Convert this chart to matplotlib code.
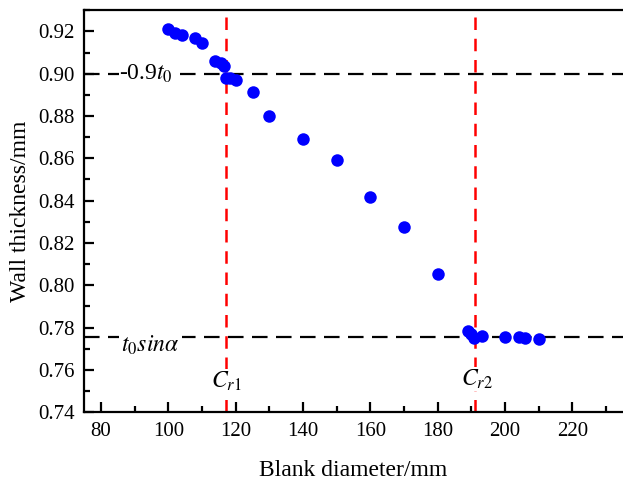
import matplotlib
matplotlib.use("Agg")
import matplotlib.pyplot as plt
from matplotlib.ticker import MultipleLocator

plt.rcParams["font.family"] = "Liberation Serif"
plt.rcParams["mathtext.fontset"] = "stix"

# ---------- data ----------
diameter = [100, 102, 104, 108, 110, 114, 115.5, 116.5, 117.2, 118.2, 120,
            125, 130, 140, 150, 160, 170, 180,
            189, 190, 190.8, 193, 200, 204, 206, 210]
thickness = [0.9212, 0.9192, 0.9181, 0.9170, 0.9147, 0.9062, 0.9050, 0.9037, 0.8980, 0.8978, 0.8970,
             0.8915, 0.8800, 0.8692, 0.8593, 0.8416, 0.8275, 0.8053,
             0.7785, 0.7770, 0.7752, 0.7760, 0.7755, 0.7755, 0.7752, 0.7746]
t_09 = 0.90
t_sin = 0.7755
cr1 = 117
cr2 = 191

fig = plt.figure(figsize=(6.23, 4.86), dpi=100)
ax = fig.add_axes([0.135, 0.152, 0.865, 0.827])

ax.axhline(t_09, color="black", lw=1.6, dashes=(7, 3.8), zorder=1)
ax.axhline(t_sin, color="black", lw=1.6, dashes=(7, 3.8), zorder=1)
ax.axvline(cr1, color="red", lw=1.8, dashes=(5, 3.5), zorder=1)
ax.axvline(cr2, color="red", lw=1.8, dashes=(5, 3.5), zorder=1)
ax.plot(diameter, thickness, "o", color="#0000FF", ms=9, mec="none", zorder=3)

white = dict(facecolor="white", edgecolor="none", pad=0.3)
ax.text(85.5, t_09, "-0.9$t_{\\mathit{0}}$", fontsize=17, va="center", ha="left",
        bbox=white, zorder=2)
ax.text(86, 0.7718, "$t_{\\mathit{0}}sin\\alpha$", fontsize=17, va="center", ha="left",
        bbox=dict(facecolor="white", edgecolor="none", pad=1.5), zorder=2)
ax.text(cr1 + 0.3, 0.7545, "$C_{\\mathit{r1}}$", fontsize=17, va="center", ha="center",
        bbox=white, zorder=2)
ax.text(cr2 + 0.8, 0.7555, "$C_{\\mathit{r2}}$", fontsize=17, va="center", ha="center",
        bbox=white, zorder=2)

ax.set_xlim(75, 235)
ax.set_ylim(0.74, 0.93)
ax.xaxis.set_major_locator(MultipleLocator(20))
ax.xaxis.set_minor_locator(MultipleLocator(10))
ax.yaxis.set_major_locator(MultipleLocator(0.02))
ax.yaxis.set_minor_locator(MultipleLocator(0.01))
ax.yaxis.set_major_formatter(plt.FormatStrFormatter("%.2f"))
ax.tick_params(which="both", direction="in", width=1.6, labelsize=15, top=False, right=False)
ax.tick_params(which="major", length=7, pad=7)
ax.tick_params(which="minor", length=4)
for s in ["left", "bottom", "top"]:
    ax.spines[s].set_linewidth(1.6)
ax.spines["right"].set_visible(False)

ax.set_xlabel("Blank diameter/mm", fontsize=17, labelpad=14)
ax.set_ylabel("Wall thickness/mm", fontsize=17, labelpad=5)

fig.savefig("out.png", dpi=100)
